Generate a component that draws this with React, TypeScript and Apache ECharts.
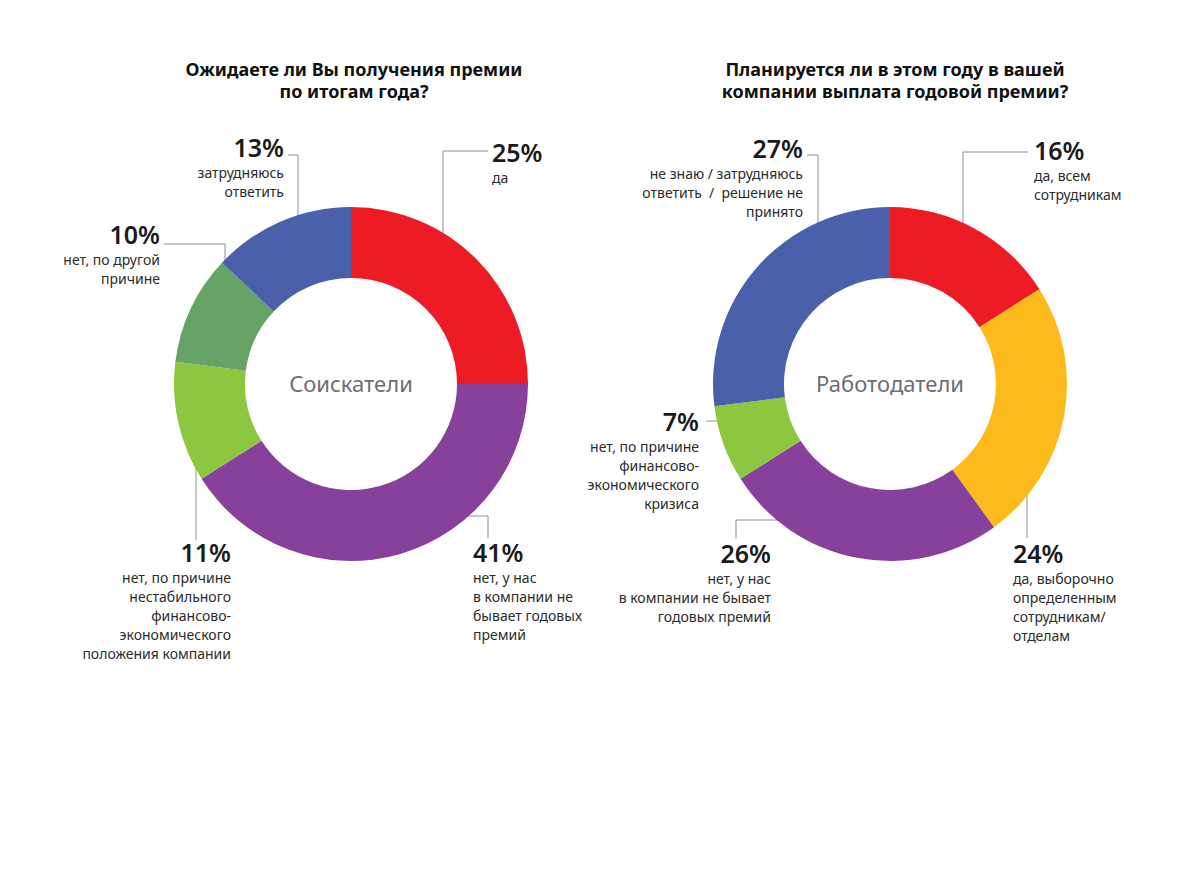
import React, { useEffect, useRef } from "react";
import * as echarts from "echarts";

const leftTitle = ["Ожидаете ли Вы получения премии", "по итогам года?"];
const rightTitle = ["Планируется ли в этом году в вашей", "компании выплата годовой премии?"];
const leftCenterText = "Соискатели";
const rightCenterText = "Работодатели";

const leftValues = [25, 41, 11, 10, 13];
const leftNames = [
  "да",
  "нет, у нас\nв компании не\nбывает годовых\nпремий",
  "нет, по причине\nнестабильного\nфинансово-\nэкономического\nположения компании",
  "нет, по другой\nпричине",
  "затрудняюсь\nответить",
];
const leftColors = ["#ED1C24", "#88419A", "#8DC63F", "#67A367", "#4A60AA"];

const rightValues = [16, 24, 26, 7, 27];
const rightNames = [
  "да, всем\nсотрудникам",
  "да, выборочно\nопределенным\nсотрудникам/\nотделам",
  "нет, у нас\nв компании не бывает\nгодовых премий",
  "нет, по причине\nфинансово-\nэкономического\nкризиса",
  "не знаю / затрудняюсь\nответить  /  решение не\nпринято",
];
const rightColors = ["#ED1C24", "#FDBA1C", "#88419A", "#8DC63F", "#4A60AA"];

// label layout (annotation positions): align, x, percent baseline, leader line points
type L = { align: "left" | "right"; x: number; base: number; line: number[][] };
const leftLayout: L[] = [
  { align: "left", x: 492, base: 161, line: [[443, 290], [443, 151], [488, 151]] },
  { align: "left", x: 473, base: 561, line: [[402, 516], [488, 516], [488, 538]] },
  { align: "right", x: 231, base: 561, line: [[222, 416], [196, 416], [196, 540]] },
  { align: "right", x: 160, base: 243, line: [[225, 330], [225, 244], [164, 244]] },
  { align: "right", x: 284, base: 156, line: [[298, 261], [298, 155], [288, 155]] },
];
const rightLayout: L[] = [
  { align: "left", x: 1034, base: 159, line: [[963, 268], [963, 152], [1028, 152]] },
  { align: "left", x: 1013, base: 562, line: [[1017, 398], [1027, 398], [1027, 538]] },
  { align: "right", x: 771, base: 562, line: [[868, 520], [736, 520], [736, 539]] },
  { align: "right", x: 699, base: 430, line: [[757, 437], [757, 421], [706, 421]] },
  { align: "right", x: 803, base: 157, line: [[818, 263], [818, 155], [807, 155]] },
];

const FONT = "'Noto Sans', 'Open Sans', sans-serif";
const P_LH = 31;

const rich = {
  pL: { fontFamily: FONT, fontSize: 25, fontWeight: 600, color: "#1a1a1a", lineHeight: P_LH, align: "left" },
  tL: { fontFamily: FONT, fontSize: 14, color: "#2b2b2b", lineHeight: 19, align: "left" },
  pR: { fontFamily: FONT, fontSize: 25, fontWeight: 600, color: "#1a1a1a", lineHeight: P_LH, align: "right" },
  tR: { fontFamily: FONT, fontSize: 14, color: "#2b2b2b", lineHeight: 19, align: "right" },
};

function makeSeries(values: number[], names: string[], colors: string[], layout: L[], center: number[]) {
  return {
    type: "pie",
    center,
    radius: [106, 177],
    startAngle: 90,
    clockwise: true,
    avoidLabelOverlap: false,
    silent: true,
    emphasis: { disabled: true },
    label: {
      show: true,
      position: "outside",
      rich,
      formatter: (p: any) => {
        const s = layout[p.dataIndex].align === "left" ? "L" : "R";
        const lines = String(p.name).split("\n").map((t) => `{t${s}|${t}}`);
        return [`{p${s}|${p.value}%}`, ...lines].join("\n");
      },
    },
    labelLine: { show: true, smooth: false, lineStyle: { color: "#8f8f8f", width: 1 } },
    labelLayout: (params: any) => {
      const l = layout[params.dataIndex];
      return {
        x: l.x,
        y: l.base - (P_LH / 2 + 9),
        align: l.align,
        verticalAlign: "top",
        labelLinePoints: l.line,
      };
    },
    data: values.map((v, i) => ({
      value: v,
      name: names[i],
      itemStyle: { color: colors[i] },
      label: { align: layout[i].align },
    })),
  };
}

export default function App() {
  const ref = useRef<HTMLDivElement>(null);
  useEffect(() => {
    if (!ref.current) return;
    const chart = echarts.init(ref.current, undefined, { renderer: "svg" });
    const titleLine = (x: number, y: number, text: string) => ({
      type: "text",
      x,
      y,
      silent: true,
      style: {
        text,
        fontFamily: FONT,
        fontSize: 18,
        fontWeight: "bold",
        fill: "#111",
        textAlign: "center",
        textVerticalAlign: "middle",
      },
    });
    const centerText = (x: number, text: string) => ({
      type: "text",
      x,
      y: 383,
      silent: true,
      style: {
        text,
        fontFamily: FONT,
        fontSize: 22,
        fill: "#6d6e71",
        textAlign: "center",
        textVerticalAlign: "middle",
      },
    });
    chart.setOption({
      animation: false,
      backgroundColor: "#ffffff",
      graphic: [
        titleLine(354, 69, leftTitle[0]),
        titleLine(354, 91, leftTitle[1]),
        titleLine(895, 69, rightTitle[0]),
        titleLine(895, 91, rightTitle[1]),
        centerText(351, leftCenterText),
        centerText(890, rightCenterText),
      ],
      series: [
        makeSeries(leftValues, leftNames, leftColors, leftLayout, [351, 384]),
        makeSeries(rightValues, rightNames, rightColors, rightLayout, [890, 384]),
      ],
    });
    return () => chart.dispose();
  }, []);
  return (
    <div
      ref={ref}
      style={{ position: "absolute", left: 0, top: 0, width: 1181, height: 886 }}
    />
  );
}
